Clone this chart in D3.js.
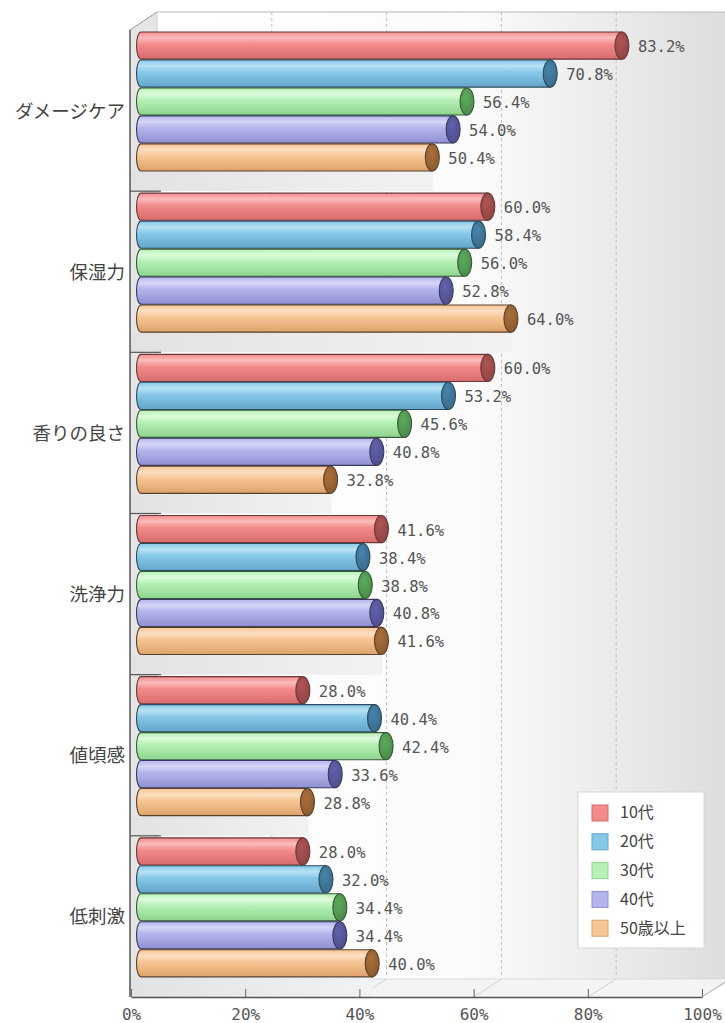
<!DOCTYPE html>
<html>
<head>
<meta charset="utf-8">
<script src="https://cdn.jsdelivr.net/npm/d3@7"></script>
<style>
  html, body { margin: 0; padding: 0; background: #fff; }
  svg { display: block; }
</style>
</head>
<body>
<div id="chart"></div>
<script>
// Categories (top to bottom) and age-group series
const categories = ["ダメージケア", "保湿力", "香りの良さ", "洗浄力", "値頃感", "低刺激"];
const seriesNames = ["10代", "20代", "30代", "40代", "50歳以上"];

// Percent values per series, in category order
const teens    = [83.2, 60.0, 60.0, 41.6, 28.0, 28.0];
const twenties = [70.8, 58.4, 53.2, 38.4, 40.4, 32.0];
const thirties = [56.4, 56.0, 45.6, 38.8, 42.4, 34.4];
const forties  = [54.0, 52.8, 40.8, 40.8, 33.6, 34.4];
const fiftyUp  = [50.4, 64.0, 32.8, 41.6, 28.8, 40.0];
const seriesValues = [teens, twenties, thirties, forties, fiftyUp];

const tickValues = [0, 20, 40, 60, 80, 100];

// Cylinder palettes: light highlight, body, shade, end cap, outline
const palettes = [
  { light: "#fbbcbc", base: "#f28b8b", dark: "#d86c6c", cap: "#8e4444", stroke: "#6a3838" },
  { light: "#b8e2f4", base: "#86c8e8", dark: "#62a6ca", cap: "#3a6a8a", stroke: "#2c4a5e" },
  { light: "#dcfcdc", base: "#b6f0b6", dark: "#8cd48c", cap: "#4a8a4a", stroke: "#385838" },
  { light: "#d6d6f8", base: "#b4b4ec", dark: "#9090d2", cap: "#4e4e8c", stroke: "#3a3a5e" },
  { light: "#fcdfc2", base: "#f6c594", dark: "#dea26a", cap: "#8a5a2e", stroke: "#5a402c" }
];

const W = 725, H = 1023;
const svg = d3.select("#chart").append("svg").attr("width", W).attr("height", H);
const defs = svg.append("defs");

// 3D box geometry: front face and a back wall shifted up-right
const front = { left: 130, right: 702, top: 30, bottom: 997 };
const depth = { dx: 27, dy: -18 };

const xFront = d3.scaleLinear().domain([0, 100]).range([front.left + 1, front.right]);
const xBack  = d3.scaleLinear().domain([0, 100]).range([front.left + depth.dx, front.right + depth.dx + 2]);
const xBar   = d3.scaleLinear().domain([0, 100]).range([141, 719]);

const yGroup = d3.scaleBand().domain(categories).range([front.top, front.bottom]).padding(0);
const ySeries = d3.scaleBand().domain(seriesNames).range([2, 141]).paddingInner(0.03).paddingOuter(0);

// Back wall gradient (white on the left, grey toward the right)
const wallGrad = defs.append("linearGradient").attr("id", "wallGrad")
  .attr("x1", "0%").attr("y1", "0%").attr("x2", "100%").attr("y2", "0%");
wallGrad.append("stop").attr("offset", "0%").attr("stop-color", "#ffffff");
wallGrad.append("stop").attr("offset", "55%").attr("stop-color", "#fbfbfb");
wallGrad.append("stop").attr("offset", "100%").attr("stop-color", "#dcdcdc");

const shadeGrad = defs.append("linearGradient").attr("id", "shadeGrad")
  .attr("x1", "0%").attr("y1", "0%").attr("x2", "100%").attr("y2", "0%");
shadeGrad.append("stop").attr("offset", "0%").attr("stop-color", "#e2e2e2");
shadeGrad.append("stop").attr("offset", "100%").attr("stop-color", "#f2f2f2");

// Per-series cylinder gradients
palettes.forEach((p, i) => {
  const g = defs.append("linearGradient").attr("id", "cyl" + i)
    .attr("x1", "0%").attr("y1", "0%").attr("x2", "0%").attr("y2", "100%");
  g.append("stop").attr("offset", "0%").attr("stop-color", p.base);
  g.append("stop").attr("offset", "22%").attr("stop-color", p.light);
  g.append("stop").attr("offset", "45%").attr("stop-color", p.base);
  g.append("stop").attr("offset", "100%").attr("stop-color", p.dark);
  const c = defs.append("radialGradient").attr("id", "cap" + i)
    .attr("cx", "40%").attr("cy", "35%").attr("r", "70%");
  c.append("stop").attr("offset", "0%").attr("stop-color", d3.color(p.cap).brighter(0.6));
  c.append("stop").attr("offset", "100%").attr("stop-color", p.cap);
});

// Back wall
const backTop = front.top + depth.dy, backBottom = front.bottom + depth.dy;
svg.append("polygon")
  .attr("points", [[front.left + depth.dx, backTop], [W + 10, backTop], [W + 10, backBottom], [front.left + depth.dx, backBottom]].join(" "))
  .attr("fill", "url(#wallGrad)");

// Left side wall
svg.append("polygon")
  .attr("points", [[front.left, front.top], [front.left + depth.dx, backTop], [front.left + depth.dx, backBottom], [front.left, front.bottom]].join(" "))
  .attr("fill", "#e6e6e6");

// Floor
svg.append("polygon")
  .attr("points", [[front.left, front.bottom], [front.left + depth.dx, backBottom], [W + 10, backBottom], [front.right, front.bottom]].join(" "))
  .attr("fill", "#f4f4f4");

// Dashed gridlines on the back wall
svg.append("g").selectAll("line").data(tickValues.filter(v => v > 0 && v < 100)).join("line")
  .attr("x1", d => xBack(d)).attr("x2", d => xBack(d))
  .attr("y1", backTop).attr("y2", backBottom)
  .attr("stroke", "#bdbdbd").attr("stroke-width", 1).attr("stroke-dasharray", "3,3");

// Floor gridlines running from the front axis to the back wall
svg.append("g").selectAll("line").data(tickValues.filter(v => v > 0)).join("line")
  .attr("x1", d => xFront(d)).attr("y1", front.bottom)
  .attr("x2", d => xBack(d)).attr("y2", backBottom)
  .attr("stroke", "#d0d0d0").attr("stroke-width", 1);

// Back wall top edge, left edge and bottom edge
svg.append("line").attr("x1", front.left + depth.dx).attr("x2", W + 10)
  .attr("y1", backTop).attr("y2", backTop).attr("stroke", "#b8b8b8");
svg.append("line").attr("x1", front.left + depth.dx).attr("x2", front.left + depth.dx)
  .attr("y1", backTop).attr("y2", backBottom).attr("stroke", "#cfcfcf");
svg.append("line").attr("x1", front.left + depth.dx).attr("x2", W + 10)
  .attr("y1", backBottom).attr("y2", backBottom).attr("stroke", "#dadada");

// One group per category
const groups = svg.append("g").selectAll("g").data(categories).join("g")
  .attr("transform", d => `translate(0,${yGroup(d)})`);

// Shaded strip beneath the last bar of each group
groups.append("rect")
  .attr("x", front.left + 1)
  .attr("y", ySeries(seriesNames[4]) + ySeries.bandwidth())
  .attr("width", (d, ci) => xBar(seriesValues[4][ci]) - front.left)
  .attr("height", yGroup.bandwidth() - ySeries(seriesNames[4]) - ySeries.bandwidth())
  .attr("fill", "url(#shadeGrad)");

// Group separators on the side wall
groups.filter((d, i) => i > 0).append("line")
  .attr("x1", front.left).attr("x2", front.left + depth.dx + 4)
  .attr("y1", 0).attr("y2", 0)
  .attr("stroke", "#555").attr("stroke-width", 1.2);

// Cylinder bars with value labels
const rxLeft = 4.5, rxRight = 7;
groups.each(function (cat, ci) {
  const g = d3.select(this);
  seriesNames.forEach((s, si) => {
    const p = palettes[si];
    const v = seriesValues[si][ci];
    const y0 = ySeries(s), h = ySeries.bandwidth();
    const x0 = xBar(0), x1 = xBar(v);
    const cy = y0 + h / 2, ry = h / 2;
    // body with a rounded left end
    const body = `M${x1},${y0} L${x0},${y0} A${rxLeft},${ry} 0 0 0 ${x0},${y0 + h} L${x1},${y0 + h} Z`;
    g.append("path").attr("d", body)
      .attr("fill", `url(#cyl${si})`)
      .attr("stroke", p.stroke).attr("stroke-width", 1.1);
    // visible right end face
    g.append("ellipse")
      .attr("cx", x1).attr("cy", cy).attr("rx", rxRight).attr("ry", ry)
      .attr("fill", `url(#cap${si})`)
      .attr("stroke", p.stroke).attr("stroke-width", 1.1);
    // value label
    g.append("text")
      .attr("x", x1 + 16).attr("y", cy + 2)
      .attr("dominant-baseline", "middle")
      .attr("font-family", "'DejaVu Sans Mono', 'Liberation Mono', monospace")
      .attr("font-size", 15.5)
      .attr("fill", "#555")
      .text(v.toFixed(1) + "%");
  });
});

// Front frame: left axis, top-left edge, right floor edge
svg.append("line").attr("x1", front.left).attr("x2", front.left)
  .attr("y1", front.top).attr("y2", front.bottom).attr("stroke", "#555").attr("stroke-width", 1.5);
svg.append("line").attr("x1", front.left).attr("y1", front.top)
  .attr("x2", front.left + depth.dx).attr("y2", backTop).attr("stroke", "#999");
svg.append("line").attr("x1", front.right).attr("y1", front.bottom)
  .attr("x2", front.right + depth.dx).attr("y2", backBottom).attr("stroke", "#bbb");

// Bottom value axis
const xAxis = d3.axisBottom(xFront).tickValues(tickValues).tickSize(0).tickPadding(12)
  .tickFormat(d => d + "%");
const axisG = svg.append("g").attr("transform", `translate(0,${front.bottom})`).call(xAxis);
axisG.select(".domain").attr("stroke", "#555").attr("stroke-width", 1.5);
axisG.selectAll(".tick").append("line").attr("y1", 0).attr("y2", -8).attr("stroke", "#666");
axisG.selectAll(".tick text")
  .attr("font-family", "'DejaVu Sans Mono', 'Liberation Mono', monospace")
  .attr("font-size", 16).attr("fill", "#555");

// Category labels
svg.append("g").selectAll("text").data(categories).join("text")
  .attr("x", 125)
  .attr("y", d => yGroup(d) + yGroup.bandwidth() / 2 + 2)
  .attr("text-anchor", "end")
  .attr("dominant-baseline", "middle")
  .attr("font-family", "'Noto Sans CJK JP', sans-serif")
  .attr("font-size", 18.5)
  .attr("fill", "#444")
  .text(d => d);

// Legend
const legend = svg.append("g").attr("transform", "translate(578,792)");
legend.append("rect").attr("width", 126).attr("height", 156)
  .attr("fill", "#fff").attr("stroke", "#d6d6d6");
const items = legend.selectAll("g").data(seriesNames).join("g")
  .attr("transform", (d, i) => `translate(14,${21 + i * 28.8})`);
items.append("rect").attr("x", 0).attr("y", -8).attr("width", 16).attr("height", 16)
  .attr("fill", (d, i) => palettes[i].base).attr("stroke", (d, i) => palettes[i].dark);
items.append("text").attr("x", 28).attr("y", 1)
  .attr("dominant-baseline", "middle")
  .attr("font-family", "'Noto Sans CJK JP', sans-serif")
  .attr("font-size", 16).attr("fill", "#444")
  .text(d => d);
</script>
</body>
</html>
